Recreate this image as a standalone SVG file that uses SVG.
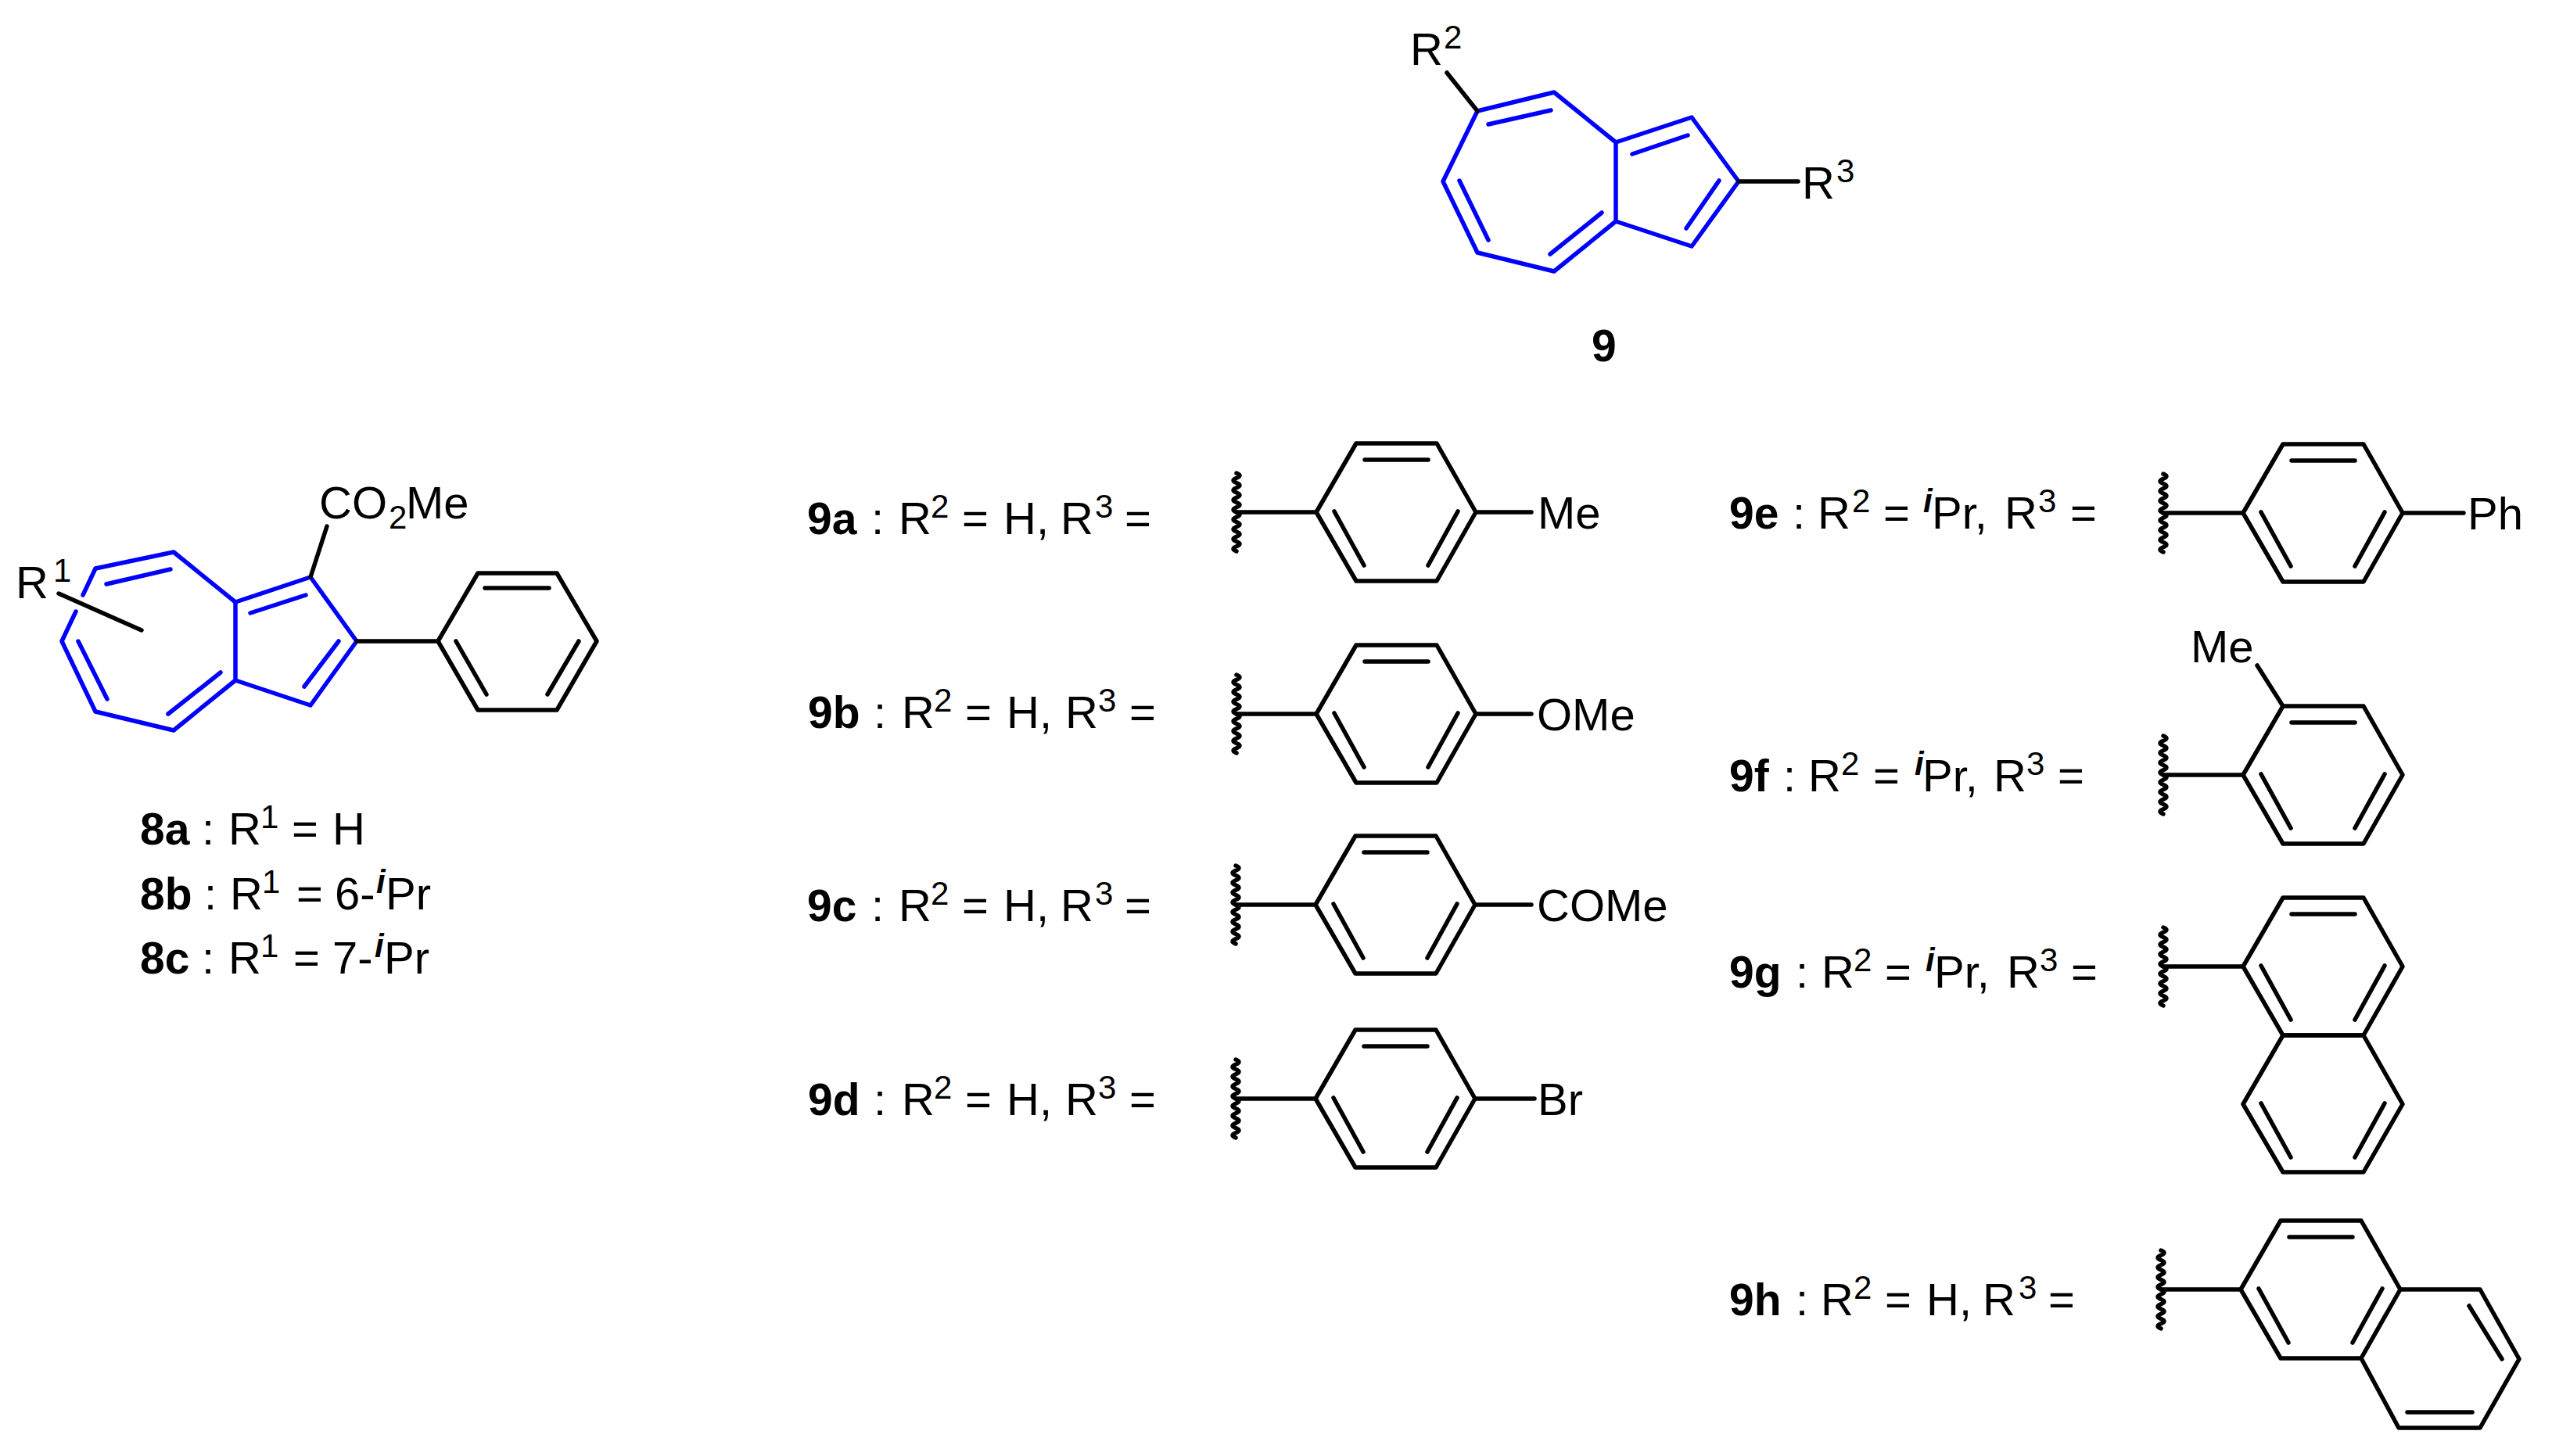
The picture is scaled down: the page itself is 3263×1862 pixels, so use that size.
<svg xmlns="http://www.w3.org/2000/svg" xmlns:xlink="http://www.w3.org/1999/xlink" width="3263" height="1862" viewBox="0 0 3263 1862">
<style>
text{font-family:"Liberation Sans",Arial,sans-serif;font-size:58px;fill:#000}
.b{font-weight:bold;font-size:57px}
.s{font-size:42px}
.i{font-size:42px;font-style:italic;font-weight:bold}
.k{fill:none;stroke:#000;stroke-width:5.5;stroke-linecap:round;stroke-linejoin:round}
.bl{fill:none;stroke:#0000ff;stroke-width:5.5;stroke-linecap:round;stroke-linejoin:round}
.w{fill:none;stroke:#000;stroke-width:5.5;stroke-linecap:round}
</style>
<defs>
<path id="wave" class="w" d="M-102-50q8 3.1 0 6.25q-8 3.1 0 6.25q8 3.1 0 6.25q-8 3.1 0 6.25q8 3.1 0 6.25q-8 3.1 0 6.25q8 3.1 0 6.25q-8 3.1 0 6.25q8 3.1 0 6.25q-8 3.1 0 6.25q8 3.1 0 6.25q-8 3.1 0 6.25q8 3.1 0 6.25q-8 3.1 0 6.25q8 3.1 0 6.25q-8 3.1 0 6.25"/>
<g id="ar">
<use xlink:href="#wave" href="#wave"/>
<path class="k" d="M-102 0H0L51-88H154L204 0L154 88H51L0 0M62-67H143M23-1L61 68M181-1L143 68"/>
</g>
</defs>

<g id="compound-9">
<path class="bl" d="M1889 142L1987 118L2066 182V283L1987 347L1889 323L1845 232ZM2066 182L2163 150L2223 232L2163 315L2066 283"/>
<path class="bl" d="M1903 159L1983 141M1866 231L1903 307M1982 325L2048 272M2087 197L2158 173M2198 231L2156 292"/>
<path class="k" d="M1850 93L1889 142M2223 232H2299"/>
<text x="1803" y="83">R<tspan class="s" x="1846" y="62">2</tspan></text>
<text x="2304" y="254">R<tspan class="s" x="2348" y="233">3</tspan></text>
<text class="b" x="2035" y="462">9</text>
</g>

<g id="compound-8">
<path class="bl" d="M106 761L122 727L222 706L301 770V870L222 934L122 910L79 820L97 782M301 770L397 738L456 820L397 902L301 870"/>
<path class="bl" d="M136 747L218 728M100 820L137 894M215 913L282 860M320 784L391 761M433 820L389 878"/>
<path class="k" d="M75 759L181 806M418 673L397 738M456 820H560L611 733H712L763 820L712 908H611L560 820M620 752H702M583 820L622 888M740 820L700 888"/>
<text x="20" y="765">R<tspan class="s" x="68" y="744">1</tspan></text>
<text x="408" y="663">CO<tspan class="s" x="497" y="676">2</tspan><tspan x="519" y="663">Me</tspan></text>
</g>

<g id="label-8a"><text y="1080"><tspan class="b" x="179">8a</tspan><tspan x="258">:</tspan><tspan x="292">R</tspan><tspan class="s" x="333" y="1059">1</tspan><tspan x="373" y="1080">=</tspan><tspan x="425">H</tspan></text></g>
<g id="label-8b"><text y="1163"><tspan class="b" x="179">8b</tspan><tspan x="261">:</tspan><tspan x="294">R</tspan><tspan class="s" x="335" y="1142">1</tspan><tspan x="379" y="1163">=</tspan><tspan x="428">6-</tspan><tspan class="i" x="481" y="1142">i</tspan><tspan x="493" y="1163">Pr</tspan></text></g>
<g id="label-8c"><text y="1245"><tspan class="b" x="179">8c</tspan><tspan x="258">:</tspan><tspan x="292">R</tspan><tspan class="s" x="333" y="1224">1</tspan><tspan x="375" y="1245">=</tspan><tspan x="425">7-</tspan><tspan class="i" x="479" y="1224">i</tspan><tspan x="491" y="1245">Pr</tspan></text></g>

<g id="entry-9a"><text y="683"><tspan class="b" x="1032">9a</tspan><tspan x="1114">:</tspan><tspan x="1149">R</tspan><tspan class="s" x="1190" y="662">2</tspan><tspan x="1230" y="683">=</tspan><tspan x="1283">H,</tspan><tspan x="1356">R</tspan><tspan class="s" x="1400" y="662">3</tspan><tspan x="1438" y="683">=</tspan></text>
<use xlink:href="#ar" href="#ar" transform="translate(1683 655)"/><path class="k" d="M1887 655H1958"/><text x="1966" y="676">Me</text></g>

<g id="entry-9b"><text y="931"><tspan class="b" x="1033">9b</tspan><tspan x="1117">:</tspan><tspan x="1153">R</tspan><tspan class="s" x="1194" y="910">2</tspan><tspan x="1234" y="931">=</tspan><tspan x="1287">H,</tspan><tspan x="1362">R</tspan><tspan class="s" x="1404" y="910">3</tspan><tspan x="1444" y="931">=</tspan></text>
<use xlink:href="#ar" href="#ar" transform="translate(1683 913)"/><path class="k" d="M1887 913H1958"/><text x="1965" y="934">OMe</text></g>

<g id="entry-9c"><text y="1178"><tspan class="b" x="1032">9c</tspan><tspan x="1114">:</tspan><tspan x="1149">R</tspan><tspan class="s" x="1190" y="1157">2</tspan><tspan x="1230" y="1178">=</tspan><tspan x="1283">H,</tspan><tspan x="1356">R</tspan><tspan class="s" x="1400" y="1157">3</tspan><tspan x="1438" y="1178">=</tspan></text>
<use xlink:href="#ar" href="#ar" transform="translate(1682 1157)"/><path class="k" d="M1886 1157H1958"/><text x="1965" y="1178">COMe</text></g>

<g id="entry-9d"><text y="1426"><tspan class="b" x="1033">9d</tspan><tspan x="1117">:</tspan><tspan x="1153">R</tspan><tspan class="s" x="1194" y="1405">2</tspan><tspan x="1234" y="1426">=</tspan><tspan x="1287">H,</tspan><tspan x="1362">R</tspan><tspan class="s" x="1404" y="1405">3</tspan><tspan x="1444" y="1426">=</tspan></text>
<use xlink:href="#ar" href="#ar" transform="translate(1682 1405)"/><path class="k" d="M1886 1405H1962"/><text x="1966" y="1426">Br</text></g>

<g id="entry-9e"><text y="676"><tspan class="b" x="2211">9e</tspan><tspan x="2292">:</tspan><tspan x="2324">R</tspan><tspan class="s" x="2368" y="655">2</tspan><tspan x="2408" y="676">=</tspan><tspan class="i" x="2459" y="655">i</tspan><tspan x="2470" y="676">Pr,</tspan><tspan x="2563">R</tspan><tspan class="s" x="2606" y="655">3</tspan><tspan x="2647" y="676">=</tspan></text>
<use xlink:href="#ar" href="#ar" transform="translate(2868 656)"/><path class="k" d="M3072 656H3150"/><text x="3155" y="677">Ph</text></g>

<g id="entry-9f"><text y="1012"><tspan class="b" x="2211">9f</tspan><tspan x="2280">:</tspan><tspan x="2312">R</tspan><tspan class="s" x="2354" y="991">2</tspan><tspan x="2395" y="1012">=</tspan><tspan class="i" x="2448" y="991">i</tspan><tspan x="2458" y="1012">Pr,</tspan><tspan x="2549">R</tspan><tspan class="s" x="2591" y="991">3</tspan><tspan x="2631" y="1012">=</tspan></text>
<use xlink:href="#ar" href="#ar" transform="translate(2868 991)"/><path class="k" d="M2886 851L2919 903"/><text x="2801" y="847">Me</text></g>

<g id="entry-9g"><text y="1263"><tspan class="b" x="2211">9g</tspan><tspan x="2296">:</tspan><tspan x="2329">R</tspan><tspan class="s" x="2370" y="1242">2</tspan><tspan x="2410" y="1263">=</tspan><tspan class="i" x="2462" y="1242">i</tspan><tspan x="2473" y="1263">Pr,</tspan><tspan x="2566">R</tspan><tspan class="s" x="2608" y="1242">3</tspan><tspan x="2648" y="1263">=</tspan></text>
<use xlink:href="#ar" href="#ar" transform="translate(2868 1236)"/><path class="k" d="M2919 1324L2868 1412L2919 1499H3022L3072 1412L3022 1324H2919M2891 1411L2929 1480M3049 1411L3011 1480"/></g>

<g id="entry-9h"><text y="1682"><tspan class="b" x="2211">9h</tspan><tspan x="2296">:</tspan><tspan x="2328">R</tspan><tspan class="s" x="2370" y="1661">2</tspan><tspan x="2410" y="1682">=</tspan><tspan x="2463">H,</tspan><tspan x="2535">R</tspan><tspan class="s" x="2581" y="1661">3</tspan><tspan x="2619" y="1682">=</tspan></text>
<use xlink:href="#ar" href="#ar" transform="translate(2865 1649)"/><path class="k" d="M3069 1649H3171L3221 1738L3171 1826H3067L3019 1737M3157 1670L3199 1738M3078 1806H3161"/></g>
</svg>
